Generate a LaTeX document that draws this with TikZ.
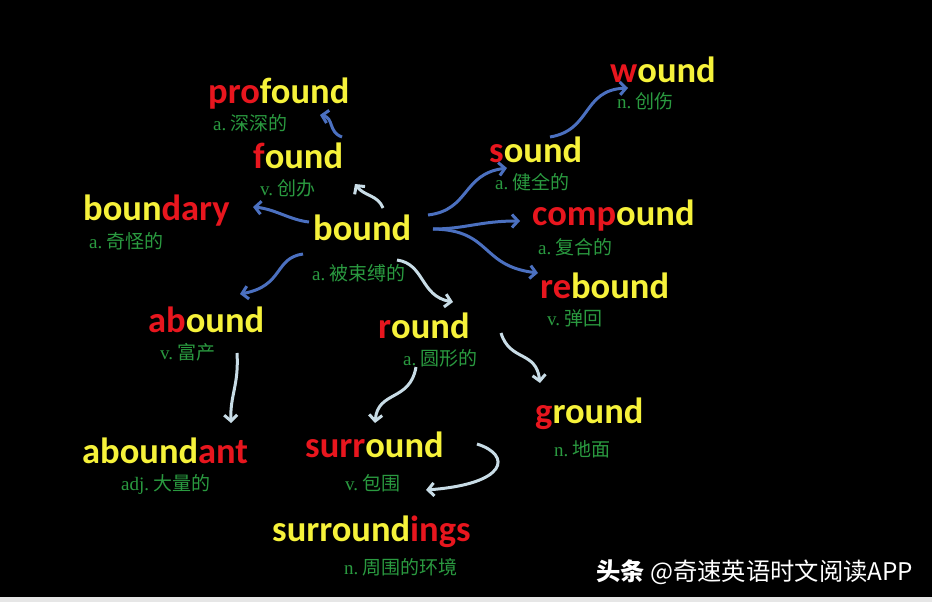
\documentclass[tikz,border=0pt]{standalone}
\usepackage{fontspec}
\setmainfont{Carlito}
\newfontfamily\cjk{Noto Sans CJK SC}
\newfontfamily\glat{Liberation Serif}
\usetikzlibrary{arrows.meta}
\definecolor{wred}{HTML}{E8161E}
\definecolor{wyel}{HTML}{F6F23A}
\definecolor{gl}{HTML}{2A9A40}
\definecolor{ab}{HTML}{4B70C0}
\definecolor{al}{HTML}{C8DCE6}
\definecolor{strip}{HTML}{E6E6E6}
\newcommand\rd[1]{\textcolor{wred}{#1}}
\newcommand\gls[2]{{\glat #1}\hspace{4pt}{\cjk #2}}
\tikzset{
  word/.style={anchor=base west,inner sep=0pt,text=wyel,font=\fontsize{36.5}{36.5}\selectfont\bfseries},
  gloss/.style={anchor=base west,inner sep=0pt,text=gl,text height=15.5pt,text depth=2.5pt,font=\fontsize{19}{19}\selectfont},
  barrow/.style={draw=ab,line width=3pt,-{Straight Barb[length=6pt,width=13pt]}},
  larrow/.style={draw=al,line width=3pt,-{Straight Barb[length=6pt,width=13pt]}}
}
\begin{document}
\begin{tikzpicture}[x=1pt,y=-1pt]
\fill[black] (0,0) rectangle (932,602);
\useasboundingbox (0,0) rectangle (932,602);
\fill[strip] (0,597) rectangle (932,602);

% words
\node[word] (profound) at (208,103) {\rd{pro}found};
\node[gloss] (g-profound) at (213,130) {\gls{a.}{深深的}};
\node[word] (found) at (253,168) {\rd{f}ound};
\node[gloss] (g-found) at (260,195) {\gls{v.}{创办}};
\node[word] (boundary) at (83,220) {boun\rd{dary}};
\node[gloss] (g-boundary) at (89,248) {\gls{a.}{奇怪的}};
\node[word] (bound) at (313,240) {bound};
\node[gloss] (g-bound) at (312,280) {\gls{a.}{被束缚的}};
\node[word] (wound) at (610,83) {\rd{w}ound};
\node[gloss] (g-wound) at (617,109) {\gls{n.}{创伤}};
\node[word] (sound) at (489,162) {\rd{s}ound};
\node[gloss] (g-sound) at (495,189) {\gls{a.}{健全的}};
\node[word] (compound) at (532,225) {\rd{comp}ound};
\node[gloss] (g-compound) at (538,254) {\gls{a.}{复合的}};
\node[word] (rebound) at (540,298) {\rd{re}bound};
\node[gloss] (g-rebound) at (547,325) {\gls{v.}{弹回}};
\node[word] (abound) at (148,332) {\rd{ab}ound};
\node[gloss] (g-abound) at (160,359) {\gls{v.}{富产}};
\node[word] (round) at (378,338) {\rd{r}ound};
\node[gloss] (g-round) at (403,365) {\gls{a.}{圆形的}};
\node[word] (ground) at (535,423) {\rd{g}round};
\node[gloss] (g-ground) at (554,456) {\gls{n.}{地面}};
\node[word] (abundant) at (82,463) {abound\rd{ant}};
\node[gloss] (g-abundant) at (121,490) {\gls{adj.}{大量的}};
\node[word] (surround) at (305,457) {\rd{surr}ound};
\node[gloss] (g-surround) at (345,490) {\gls{v.}{包围}};
\node[word] (surroundings) at (272,541) {surround\rd{ings}};
\node[gloss] (g-surroundings) at (344,574) {\gls{n.}{周围的环境}};

\node[anchor=base west,inner sep=0pt,text=white,font=\cjk\fontsize{24.3}{24.3}\selectfont] (wm) at (596,580) {{\bfseries 头条} @奇速英语时文阅读APP};

% connector end points
\coordinate (b-pf) at (342,137);  \coordinate (e-pf) at (320,115);
\coordinate (b-f) at (383,208);   \coordinate (e-f) at (355,184);
\coordinate (b-by) at (309,222);  \coordinate (e-by) at (253,207);
\coordinate (b-ab) at (303,254);  \coordinate (e-ab) at (240,294);
\coordinate (b-r) at (397,260);   \coordinate (e-r) at (453,302);
\coordinate (b-s) at (428,215);   \coordinate (e-s) at (507,168);
\coordinate (b-w) at (550,137);   \coordinate (e-w) at (628,88);
\coordinate (b-c) at (433,229);   \coordinate (e-c) at (520,221);
\coordinate (e-rb) at (538,273);
\coordinate (b-an) at (237,353);  \coordinate (e-an) at (231,423);
\coordinate (b-sr) at (416,367);  \coordinate (e-sr) at (375,423);
\coordinate (b-g) at (501,333);   \coordinate (e-g) at (540,383);
\coordinate (b-sg) at (477,444);  \coordinate (e-sg) at (426,490);

% connectors
\draw[barrow] (b-pf) .. controls (328,132) and (334,118) .. (e-pf);
\draw[larrow] (b-f) .. controls (378,195) and (364,196) .. (e-f);
\draw[barrow] (b-by) .. controls (290,220) and (275,209) .. (e-by);
\draw[barrow] (b-ab) .. controls (274,258) and (284,286) .. (e-ab);
\draw[larrow] (b-r) .. controls (425,264) and (420,296) .. (e-r);
\draw[barrow] (b-s) .. controls (470,210) and (462,174) .. (e-s);
\draw[barrow] (b-w) .. controls (592,130) and (582,90) .. (e-w);
\draw[barrow] (b-c) .. controls (465,229) and (480,221) .. (e-c);
\draw[barrow] (b-c) .. controls (492,230) and (480,266) .. (e-rb);
\draw[larrow] (b-an) .. controls (239,385) and (230,395) .. (e-an);
\draw[larrow] (b-sr) .. controls (410,402) and (378,390) .. (e-sr);
\draw[larrow] (b-g) .. controls (510,362) and (536,350) .. (e-g);
\draw[larrow] (b-sg) .. controls (512,455) and (508,484) .. (e-sg);
\end{tikzpicture}
\end{document}
